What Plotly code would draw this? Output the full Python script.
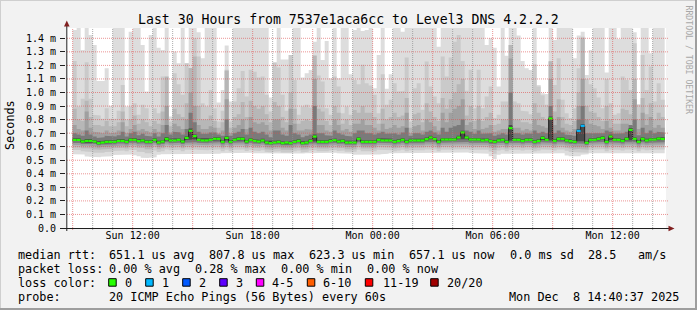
import plotly.graph_objects as go
import pandas as pd

# ---------------- data (microseconds), one value per 12-minute column ----------------
start = "2025-12-07 09:00"
step_min = 12

median = [650,650,638,643,643,638,626,631,636,636, 636,643,643,636,651,651,641,646,636,636,
          651,631,638,658,646,646,651,638,665,717, 678,651,646,646,651,658,658,636,665,636,
          651,658,658,638,651,643,638,646,631,626, 631,636,626,631,626,636,643,626,631,643,
          675,636,636,636,643,648,638,643,631,631, 631,658,636,636,636,636,651,646,646,646,
          636,643,651,636,646,646,646,646,656,668, 656,636,653,653,653,653,668,705,668,653,
          653,653,646,651,641,636,646,651,636,737, 651,651,643,651,651,636,643,665,651,808,
          643,658,658,646,641,636,717,754,629,651, 651,658,665,636,675,651,651,643,658,724,
          658,636,658,646,653,653,660,657]
loss = [0,0,0,0,0,0,0,0,0,0, 0,0,0,0,0,0,0,0,0,0, 0,0,0,0,0,0,0,0,0,0, 0,0,0,0,0,0,0,0,0,0,
        0,0,0,0,0,0,0,0,0,0, 0,0,0,0,0,0,0,0,0,0, 0,0,0,0,0,0,0,0,0,0, 0,0,0,0,0,0,0,0,0,0,
        0,0,0,0,0,0,0,0,0,0, 0,0,0,0,0,0,0,0,0,0, 0,0,0,0,0,0,0,0,0,0, 0,0,0,0,0,0,0,0,0,0,
        0,0,0,0,0,0,1,1,0,0, 0,0,0,0,0,0,0,0,0,0, 0,0,0,0,0,0,0,0]
p20 = [1461,1500,1314,1500,1425,1351,1085,1085,1179,902, 1500,1500,1500,897,1449,1500,1500,1351,1007,1425,
       1500,1331,1314,1500,823,1302,1216,1500,1216,1500, 1500,1444,1253,1500,1500,1500,926,1019,1346,934,
       1500,1500,1500,1500,1500,1500,1500,1500,1500,963, 1221,1500,1243,1243,1277,1500,1500,1110,1142,1166,
       1375,1500,1240,1380,1105,1500,1105,1500,1500,1135, 1461,1500,1454,1461,1500,1031,1277,1500,1027,1135,
       1500,1500,1449,1500,1500,1500,1500,1500,1500,1500, 1500,1338,1500,1500,1500,1500,1500,1500,1500,1500,
       1500,1500,1500,1351,1400,1331,1044,1500,1272,1500, 1500,1420,1233,1179,1166,1500,1056,995,988,1500,
       1388,1500,1500,1500,1500,1253,1420,1449,1130,1314, 1500,1500,1500,1147,1500,1500,1395,1500,1500,1500,
       1444,914,1500,1500,1289,1500,1500,1500]
p19 = [1233,897,953,1223,953,835,830,806,884,806, 806,865,1056,798,897,921,835,909,884,798,
       884,847,1118,835,786,1142,1061,983,1216,1179, 1400,1265,921,897,1019,884,786,865,1167,786,
       934,1032,1159,970,1167,1154,1110,1118,983,860, 1221,1184,983,865,1277,1093,835,897,909,889,
       1277,1125,1081,884,835,1118,1044,847,897,835, 1093,1061,1204,1068,1051,983,847,1135,909,946,
       1068,1007,1012,1258,786,1032,1068,872,1228,1044, 970,921,1265,1118,1258,1375,1425,1233,1012,1167,
       884,1167,884,970,1044,811,835,934,934,1351, 934,921,865,860,840,1208,1044,979,909,1228,
       1056,1253,946,847,811,884,1179,1412,1100,1061, 1032,963,884,1100,921,835,847,1118,1093,1019,
       1363,909,1277,1019,1191,934,1068,946]
p18 = [880,800,790,940,820,760,760,750,790,750, 750,780,860,750,800,830,770,800,780,750,
       790,770,860,1118,750,880,840,820,920,1180, 1265,900,800,800,830,790,740,780,1160,740,
       820,840,930,820,940,900,880,900,840,780, 930,900,820,780,1000,880,770,790,800,790,
       1270,880,860,790,760,900,850,770,800,760, 870,850,900,850,850,820,770,880,800,820,
       850,820,830,960,740,840,850,780,920,860, 820,790,960,880,950,1000,1060,1100,830,900,
       790,900,790,820,850,760,770,800,800,1350, 800,800,780,780,770,920,850,820,800,1230,
       860,950,820,770,760,790,1000,1400,900,860, 850,820,790,900,800,770,770,880,870,840,
       1100,800,960,840,920,800,850,820]
p17 = [760,730,720,860,740,710,705,700,720,700, 705,720,780,700,730,760,720,730,715,705,
       730,710,760,900,705,770,750,730,800,1000, 900,760,730,730,750,740,700,720,950,700,
       740,760,800,730,820,780,770,780,760,720, 800,800,740,720,880,770,720,720,730,725,
       1100,760,760,720,710,800,760,720,730,710, 770,770,800,760,760,740,720,770,730,740,
       760,740,750,850,700,750,760,720,800,780, 750,720,850,780,850,880,900,950,760,780,
       730,800,730,740,760,710,720,730,730,1250, 740,740,720,730,720,800,760,750,740,1100,
       760,820,740,720,710,730,900,1100,800,770, 760,750,730,790,740,720,720,770,770,760,
       950,730,850,760,820,740,760,740]
p15 = [700,690,680,720,690,675,665,670,680,675, 675,685,710,675,700,710,685,695,680,675,
       700,675,700,760,690,710,705,690,730,850, 780,710,695,695,705,705,690,680,800,680,
       700,710,730,690,740,710,700,710,690,670, 720,720,690,680,760,700,690,670,680,690,
       900,700,700,685,680,720,700,690,680,675, 700,720,720,700,700,690,700,710,695,700,
       700,690,705,740,680,700,700,690,710,720, 705,690,740,710,740,750,760,800,720,710,
       695,720,695,700,700,680,690,700,690,1000, 700,700,690,700,695,720,700,710,700,900,
       700,720,705,690,685,680,800,900,700,705, 700,705,700,720,710,695,695,700,710,760,
       800,685,740,700,720,700,710,705]
p13 = [662,662,650,656,656,650,638,643,648,648, 648,655,656,648,663,664,653,658,648,648,
       663,643,650,672,658,658,663,650,678,735, 690,663,658,658,663,670,670,648,678,648,
       663,670,670,650,663,655,650,658,643,638, 643,648,638,643,638,648,655,638,643,655,
       690,648,648,648,655,660,650,655,643,643, 643,670,648,648,648,648,663,658,658,658,
       648,655,663,648,658,658,658,658,668,680, 668,648,665,665,665,665,680,718,680,665,
       665,665,658,663,653,648,658,663,648,760, 663,663,655,663,663,648,655,678,663,822,
       655,670,670,658,653,648,730,768,641,663, 663,670,678,648,688,663,663,655,670,738,
       670,648,670,658,665,665,672,669]
p10 = [642,642,630,635,635,630,618,623,628,628, 628,635,635,628,643,643,633,638,628,628,
       643,623,630,645,638,638,643,630,650,650, 655,643,638,638,643,648,648,628,645,628,
       643,648,648,630,643,635,630,638,623,618, 623,628,618,623,618,628,635,618,623,635,
       640,628,628,628,635,640,630,635,623,623, 623,648,628,628,628,628,643,638,638,638,
       628,635,643,628,638,638,638,638,646,655, 646,628,645,645,645,645,655,650,655,645,
       645,645,638,643,633,628,638,643,628,645, 643,643,635,643,643,628,635,650,643,648,
       635,648,648,638,633,628,640,640,621,643, 643,648,655,628,650,643,643,635,648,650,
       648,628,648,638,645,645,650,649]
p8 = [628,628,620,624,624,620,610,614,618,618, 618,624,624,618,630,630,622,626,618,618,
      630,614,620,632,626,626,630,620,630,630, 632,630,626,626,630,632,632,618,630,618,
      630,632,632,620,630,624,620,626,614,610, 614,618,610,614,610,618,624,610,614,624,
      626,618,618,618,624,628,620,624,614,614, 614,632,618,618,618,618,630,626,626,626,
      618,624,630,618,626,626,626,626,632,634, 632,618,630,630,630,630,634,632,634,630,
      630,630,626,630,622,618,626,630,618,630, 630,630,624,630,630,618,624,632,630,630,
      624,632,632,626,622,618,624,622,612,630, 630,632,634,618,632,630,630,624,632,632,
      632,618,632,626,630,630,632,632]
p6 = [612,612,605,608,606,602,595,598,602,602, 603,608,608,602,614,614,606,610,600,600,
      614,598,604,616,610,610,614,604,614,614, 616,614,610,610,614,616,616,602,614,602,
      614,616,616,604,614,608,604,610,598,594, 598,602,594,598,594,602,608,594,598,608,
      610,602,602,602,608,612,604,608,598,598, 598,616,602,602,602,602,614,610,610,610,
      602,608,614,602,610,610,610,610,616,618, 616,602,614,614,614,614,618,616,618,614,
      614,614,610,614,606,596,610,614,602,614, 614,614,608,614,614,602,608,616,614,614,
      608,616,616,610,606,600,604,602,596,614, 614,616,618,602,616,614,614,608,616,616,
      616,602,616,610,614,614,616,616]
p4 = [596,596,588,590,586,582,578,580,584,585, 588,592,592,586,598,598,590,592,582,582,
      598,582,588,600,594,594,598,588,598,598, 600,598,594,594,598,600,600,586,598,586,
      598,600,600,588,598,592,588,594,582,578, 582,586,578,582,578,586,592,578,582,592,
      594,586,586,586,592,596,588,592,582,582, 582,600,586,586,584,586,598,594,594,594,
      586,592,598,586,594,594,594,594,600,602, 600,586,598,598,598,598,602,600,602,598,
      598,598,594,598,588,575,592,598,586,598, 598,598,592,598,598,586,592,600,598,598,
      592,600,600,592,586,580,584,582,578,598, 598,600,602,586,600,598,598,592,600,600,
      600,586,600,594,598,598,600,600]
p2 = [575,575,566,565,560,556,552,555,560,562, 568,572,572,566,578,576,562,560,552,552,
      572,560,566,580,574,574,578,566,578,578, 580,578,574,574,578,580,580,566,578,566,
      578,580,580,568,578,572,568,574,562,558, 562,566,558,562,558,566,572,558,562,572,
      574,566,566,566,572,576,568,572,562,562, 562,578,566,566,562,566,578,574,574,574,
      566,572,578,566,574,574,574,574,580,582, 580,566,578,578,578,578,582,580,582,578,
      578,578,574,578,565,548,572,578,566,578, 578,578,572,578,578,566,572,580,578,578,
      572,580,580,570,560,556,560,558,556,578, 578,580,582,566,580,578,578,572,580,580,
      580,566,580,574,578,578,580,580]
p1 = [545,545,543,528,525,522,523,525,527,530, 538,540,542,540,542,536,530,518,516,518,
      522,540,545,548,545,546,544,545,546,547, 548,546,545,545,546,547,548,552,555,553,
      556,555,556,554,555,552,550,551,549,548, 550,551,549,550,548,550,552,550,551,553,
      556,552,553,552,554,555,552,553,550,548, 540,538,540,541,539,540,542,545,548,552,
      553,554,555,553,552,553,554,552,555,556, 555,552,554,553,552,553,555,556,557,553,
      552,551,550,548,530,510,540,548,547,549, 550,549,548,550,549,547,550,552,550,551,
      550,551,552,535,530,528,530,540,545,552, 553,552,553,551,554,552,552,550,553,554,
      553,550,552,551,553,552,553,552]

y_tick_vals = [0.0, 0.1, 0.2, 0.3, 0.4, 0.5, 0.6, 0.7, 0.8, 0.9, 1.0, 1.1, 1.2, 1.3, 1.4]
y_tick_text = ["0.0", "0.1 m", "0.2 m", "0.3 m", "0.4 m", "0.5 m", "0.6 m", "0.7 m",
               "0.8 m", "0.9 m", "1.0 m", "1.1 m", "1.2 m", "1.3 m", "1.4 m"]
x_tick_vals = ["2025-12-07 12:00", "2025-12-07 18:00", "2025-12-08 00:00",
               "2025-12-08 06:00", "2025-12-08 12:00"]
x_tick_text = ["Sun 12:00", "Sun 18:00", "Mon 00:00", "Mon 06:00", "Mon 12:00"]
x_range = ["2025-12-07 08:40", "2025-12-08 14:40"]

loss_classes = ["0", "1", "2", "3", "4-5", "6-10", "11-19", "20/20"]
loss_colors = ["#26ff00", "#00b8ff", "#0059ff", "#5e00ff", "#ff00ff", "#ff5e00", "#ff0000", "#a10000"]

title = "Last 30 Hours from 7537e1aca6cc to Level3 DNS 4.2.2.2"
stats_rtt = [("median rtt:", 16), ("651.1 us avg", 107.3), ("807.8 us max", 207.3),
             ("623.3 us min", 307.3), ("657.1 us now", 407.3), ("0.0 ms sd", 507.7),
             ("28.5", 586), ("am/s", 636)]
stats_loss = [("packet loss:", 16), ("0.00 % avg", 107.3), ("0.28 % max", 193.3),
              ("0.00 % min", 279.3), ("0.00 % now", 365)]
probe_text = "20 ICMP Echo Pings (56 Bytes) every 60s"
stamp_text = "Mon Dec  8 14:40:37 2025"

# ---------------- geometry ----------------
W, H = 697, 310
PL, PT, PW, PH = 66, 28, 600, 200
FONT = "DejaVu Sans Mono"


def xp(px):
    return (px - PL) / PW


def yp(py):
    return 1 - (py - PT) / PH


n = len(median)
edges = pd.date_range(start, periods=n + 1, freq=f"{step_min}min")


def ms(v):
    return v / 1000.0


def band(lo, hi, color):
    xs, ys = [], []
    for k in range(n):
        xs += [edges[k], edges[k + 1]]
        ys += [ms(hi[k]), ms(hi[k])]
    for k in range(n - 1, -1, -1):
        xs += [edges[k + 1], edges[k]]
        ys += [ms(lo[k]), ms(lo[k])]
    return go.Scatter(x=xs, y=ys, fill="toself", fillcolor=color, mode="lines",
                      line=dict(width=0, color=color), hoverinfo="skip", showlegend=False)


fig = go.Figure()
layers = [(p1, p20, "#dddddd"), (p2, p19, "#cacaca"), (p4, p18, "#b7b7b7"),
          (p6, p17, "#a0a0a0"), (p8, p15, "#7a7a7a"), (p10, p13, "#4a4a4a")]
for lo, hi, col in layers:
    fig.add_trace(band(lo, hi, col))

# dark step line (median) giving the vertical connectors
fig.add_trace(go.Scatter(x=list(edges), y=[ms(v) for v in median] + [ms(median[-1])],
                         mode="lines", line=dict(shape="hv", width=1, color="#202020"),
                         hoverinfo="skip", showlegend=False))
# coloured median segments by loss class
for cls in sorted(set(loss)):
    xs, ys = [], []
    for k in range(n):
        if loss[k] == cls:
            xs += [edges[k], edges[k + 1], None]
            ys += [ms(median[k]), ms(median[k]), None]
    fig.add_trace(go.Scatter(x=xs, y=ys, mode="lines",
                             line=dict(width=2.2, color=loss_colors[cls]),
                             hoverinfo="skip", showlegend=False))

shapes = []
# grid (drawn over the smoke, as rrdtool does)
grid_col = "rgba(143,143,143,0.75)"
mgrid_col = "rgba(222,79,79,0.6)"
for v in y_tick_vals[1:]:
    shapes.append(dict(type="line", xref="paper", yref="y", x0=xp(67), x1=xp(669), y0=v, y1=v,
                       line=dict(color=mgrid_col, width=1, dash="1px,1px"), layer="above"))
hours = pd.date_range("2025-12-07 09:00", "2025-12-08 14:00", freq="1h")
for h in hours:
    col = mgrid_col if h.hour % 3 == 0 else grid_col
    shapes.append(dict(type="line", xref="x", yref="paper", x0=h, x1=h, y0=yp(230), y1=1,
                       line=dict(color=col, width=1, dash="1px,1px"), layer="above"))
# axes + arrows
axis_col = "#1f1f1f"
arrow_col = "#801f1f"
shapes.append(dict(type="line", xref="paper", yref="paper", x0=xp(62), x1=xp(671),
                   y0=yp(228.5), y1=yp(228.5), line=dict(color=axis_col, width=1), layer="above"))
shapes.append(dict(type="line", xref="paper", yref="paper", x0=xp(66.8), x1=xp(66.8),
                   y0=yp(231), y1=yp(24), line=dict(color=axis_col, width=1), layer="above"))
shapes.append(dict(type="path", xref="paper", yref="paper",
                   path=f"M {xp(64)} {yp(26.5)} L {xp(69.6)} {yp(26.5)} L {xp(66.8)} {yp(20.5)} Z",
                   fillcolor=arrow_col, line=dict(width=0), layer="above"))
shapes.append(dict(type="path", xref="paper", yref="paper",
                   path=f"M {xp(668.5)} {yp(225.7)} L {xp(668.5)} {yp(231.3)} L {xp(674.5)} {yp(228.5)} Z",
                   fillcolor=arrow_col, line=dict(width=0), layer="above"))
# frame
shapes += [
    dict(type="rect", xref="paper", yref="paper", x0=xp(0), x1=xp(697), y0=yp(0), y1=yp(1),
         fillcolor="#cfcfcf", line=dict(width=0), layer="above"),
    dict(type="rect", xref="paper", yref="paper", x0=xp(0), x1=xp(1), y0=yp(0), y1=yp(310),
         fillcolor="#cfcfcf", line=dict(width=0), layer="above"),
    dict(type="rect", xref="paper", yref="paper", x0=xp(0), x1=xp(697), y0=yp(308), y1=yp(310),
         fillcolor="#9e9e9e", line=dict(width=0), layer="above"),
    dict(type="rect", xref="paper", yref="paper", x0=xp(695), x1=xp(697), y0=yp(0), y1=yp(310),
         fillcolor="#9e9e9e", line=dict(width=0), layer="above"),
]

annotations = []


def text(s, x, y, size=11.8, anchor="left", color="#000000", angle=0):
    annotations.append(dict(text=s, xref="paper", yref="paper", x=xp(x), y=yp(y),
                            xanchor=anchor, yanchor="middle", showarrow=False,
                            textangle=angle, font=dict(family=FONT, size=size, color=color)))


text(title, 348.5, 19, size=13.2, anchor="center")
text("Seconds", 10, 125, angle=-90, anchor="center")
text("RRDTOOL / TOBI OETIKER", 688.5, 60, size=8.2, anchor="center", color="#a8a8a8", angle=90)
for s, x in stats_rtt:
    text(s, x, 255)
for s, x in stats_loss:
    text(s, x, 269)
text("loss color:", 16, 283)
box_x = [108.7, 145.7, 182.7, 219.7, 256.3, 307.3, 365.3, 430.7]
lab_x = [122.7, 159.7, 196.7, 233.7, 270.3, 321.0, 380.7, 445.0]
for lab, colr, bx, lx in zip(loss_classes, loss_colors, box_x, lab_x):
    shapes.append(dict(type="rect", xref="paper", yref="paper", x0=xp(bx), x1=xp(bx + 7.5),
                       y0=yp(278.7), y1=yp(286.2), fillcolor=colr,
                       line=dict(color="#000000", width=1), layer="above"))
    text(lab, lx, 283)
text("probe:", 16, 296.5)
text(probe_text, 107.3, 296.5)
text(stamp_text, 680.5, 296.5, anchor="right")

fig.update_layout(
    width=W, height=H, margin=dict(l=PL, r=W - PL - PW, t=PT, b=H - PT - PH, pad=0),
    paper_bgcolor="#f2f2f2", plot_bgcolor="#ffffff", showlegend=False,
    shapes=shapes, annotations=annotations,
    xaxis=dict(range=x_range, type="date", showgrid=False, zeroline=False, showline=False,
               tickmode="array", tickvals=x_tick_vals, ticktext=x_tick_text, ticks="",
               tickfont=dict(family=FONT, size=10, color="#000000"), ticklabelstandoff=0),
    yaxis=dict(range=[0, 1.476], showgrid=False, zeroline=False, showline=False,
               tickmode="array", tickvals=y_tick_vals, ticktext=y_tick_text,
               ticks="outside", ticklen=5, tickcolor="#1f1f1f", tickwidth=1,
               tickfont=dict(family=FONT, size=10, color="#000000"), ticklabelstandoff=2),
)
fig.write_html("out.html")
